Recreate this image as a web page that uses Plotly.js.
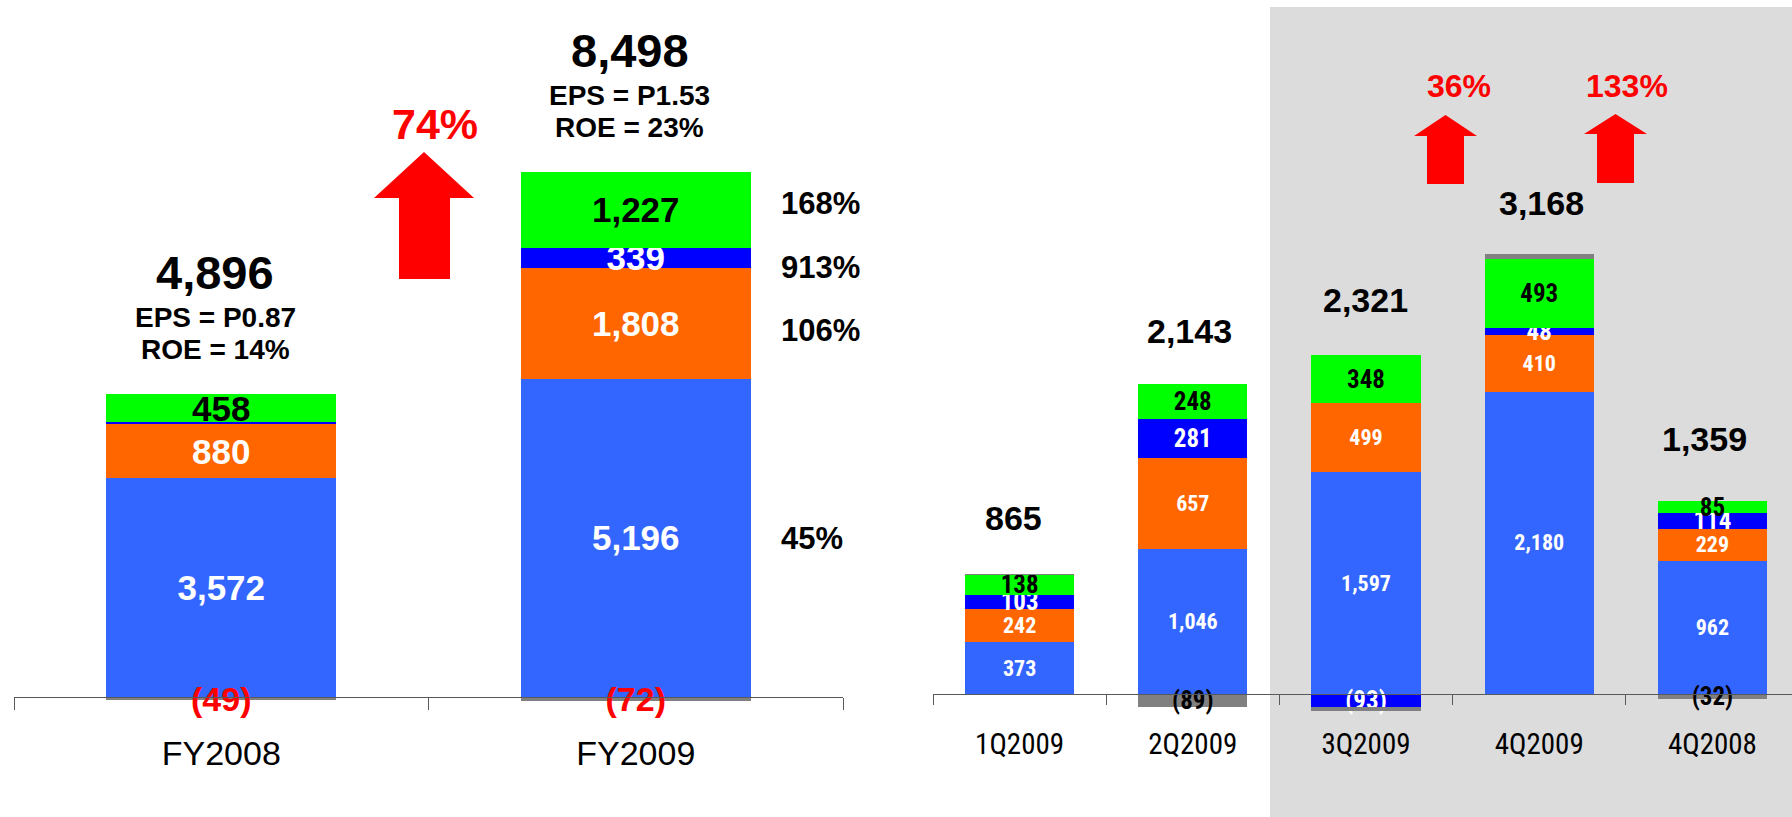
<!DOCTYPE html>
<html><head><meta charset="utf-8">
<script src="https://cdn.plot.ly/plotly-3.0.1.min.js"></script>
<style>html,body{margin:0;padding:0;background:#fff;}#chart{width:1792px;height:817px;}</style>
</head><body><div id="chart"></div>
<script>
// ---------------- data ----------------
const fyCats = ['FY2008', 'FY2009'];
const fyBlue = [3572, 5196];
const fyOrange = [880, 1808];
const fyNavy = [35, 339];
const fyGreen = [458, 1227];
const fyGrey = [-49, -72];
const fyTotal = [4896, 8498];
const fyEps = ['P0.87', 'P1.53'];
const fyRoe = ['14%', '23%'];
const fyNavyShown = [false, true];
// FY2009 growth per segment: blue, orange, navy, green
const fyGrowth = ['45%', '106%', '913%', '168%'];
const fyGrowthTotal = '74%';

const qCats = ['1Q2009', '2Q2009', '3Q2009', '4Q2009', '4Q2008'];
const qBlue = [373, 1046, 1597, 2180, 962];
const qOrange = [242, 657, 499, 410, 229];
const qNavy = [103, 281, -93, 48, 114];
const qGreen = [138, 248, 348, 493, 85];
const qGrey = [9, -89, -30, 37, -32];
const qGreyShown = [false, true, false, false, true];
const qTotal = [865, 2143, 2321, 3168, 1359];
const qGrowth = ['36%', '133%'];

// ---------------- style / geometry ----------------
const W = 1792, H = 817;
const C = {blue: '#3366FF', orange: '#FF6600', navy: '#0000FF', green: '#00FF00', grey: '#808080', red: '#FF0000'};
const ARIAL = 'Liberation Sans, Arial, sans-serif';
const NARROW = 'Roboto Condensed, Liberation Sans Narrow, Arial Narrow, Liberation Sans, sans-serif';
const L = {x0: 14, x1: 843, zero: 697, scale: 0.06121};
const R = {x0: 933, x1: 1792, zero: 694.3, scale: 0.1389, cat: 173.2};

const fmt = v => v < 0 ? '(' + Math.abs(v).toLocaleString('en-US') + ')' : v.toLocaleString('en-US');
const px = x => x / W;
const py = y => 1 - y / H;

function seg(x, y, xa, ya, color, width, texts, font) {
  return {type: 'bar', x: x, y: y, xaxis: xa, yaxis: ya, width: width,
    marker: {color: color, line: {width: 0}}, text: texts, textposition: 'inside',
    insidetextanchor: 'middle', textangle: 0, constraintext: 'none',
    textfont: font, hoverinfo: 'skip', showlegend: false, cliponaxis: false};
}
const fL = (c) => ({family: ARIAL, size: 35, color: c, weight: 700});
const fR = (c, s) => ({family: NARROW, size: s, color: c, weight: 700});

const traces = [
  seg(fyCats, fyBlue, 'x', 'y', C.blue, 0.555, fyBlue.map(fmt), fL('white')),
  seg(fyCats, fyOrange, 'x', 'y', C.orange, 0.555, fyOrange.map(fmt), fL('white')),
  seg(fyCats, fyNavy, 'x', 'y', C.navy, 0.555, fyNavy.map((v, i) => fyNavyShown[i] ? fmt(v) : ''), fL('white')),
  seg(fyCats, fyGreen, 'x', 'y', C.green, 0.555, fyGreen.map(fmt), fL('black')),
  seg(fyCats, fyGrey, 'x', 'y', C.grey, 0.555, fyGrey.map(fmt), {family: ARIAL, size: 34, color: C.red, weight: 700}),
  seg(qCats, qBlue, 'x2', 'y2', C.blue, 0.63, qBlue.map(fmt), fR('white', 22)),
  seg(qCats, qOrange, 'x2', 'y2', C.orange, 0.63, qOrange.map(fmt), fR('white', 22)),
  seg(qCats, qNavy, 'x2', 'y2', C.navy, 0.63, qNavy.map(fmt), fR('white', 25)),
  seg(qCats, qGreen, 'x2', 'y2', C.green, 0.63, qGreen.map(fmt), fR('black', 25)),
  seg(qCats, qGrey, 'x2', 'y2', C.grey, 0.63, qGrey.map((v, i) => qGreyShown[i] ? fmt(v) : ''), fR('black', 25))
];

const posSum = (arrs, i) => arrs.reduce((s, a) => s + Math.max(0, a[i]), 0);
const ann = [];
const black = (s, fam) => ({family: fam || ARIAL, size: s, color: 'black', weight: 700});

fyCats.forEach((c, i) => {
  const top = posSum([fyBlue, fyOrange, fyNavy, fyGreen, fyGrey], i);
  ann.push({xref: 'x', yref: 'y', x: c, y: top, text: fmt(fyTotal[i]), showarrow: false, xanchor: 'center', yanchor: 'middle', yshift: 122, xshift: -6, font: black(47)});
  ann.push({xref: 'x', yref: 'y', x: c, y: top, text: 'EPS = ' + fyEps[i], showarrow: false, xanchor: 'center', yanchor: 'middle', yshift: 77, xshift: -6, font: black(28)});
  ann.push({xref: 'x', yref: 'y', x: c, y: top, text: 'ROE = ' + fyRoe[i], showarrow: false, xanchor: 'center', yanchor: 'middle', yshift: 45, xshift: -6, font: black(28)});
});
// growth labels next to FY2009 segments
const fySegs = [fyBlue, fyOrange, fyNavy, fyGreen];
const growShift = [-1, -7, -10, 6];
let base = 0;
fySegs.forEach((a, k) => {
  const mid = base + a[1] / 2; base += a[1];
  ann.push({xref: 'paper', yref: 'y', x: px(779), y: mid, text: fyGrowth[k], showarrow: false, xanchor: 'left', yanchor: 'middle', yshift: growShift[k], font: black(31)});
});
// quarterly totals
const qShiftY = [56, 53, 55, 51, 62];
const qShiftX = [-6, -3, -1, 2, -8];
qCats.forEach((c, i) => {
  const top = posSum([qBlue, qOrange, qNavy, qGreen, qGrey], i);
  ann.push({xref: 'x2', yref: 'y2', x: c, y: top, text: fmt(qTotal[i]), showarrow: false, xanchor: 'center', yanchor: 'middle', yshift: qShiftY[i], xshift: qShiftX[i], font: black(34)});
});
// growth arrows text
const redF = s => ({family: ARIAL, size: s, color: C.red, weight: 700});
ann.push({xref: 'paper', yref: 'paper', x: px(435), y: py(124), text: fyGrowthTotal, showarrow: false, xanchor: 'center', yanchor: 'middle', font: redF(43)});
ann.push({xref: 'paper', yref: 'paper', x: px(1459), y: py(86), text: qGrowth[0], showarrow: false, xanchor: 'center', yanchor: 'middle', font: redF(32)});
ann.push({xref: 'paper', yref: 'paper', x: px(1627), y: py(86), text: qGrowth[1], showarrow: false, xanchor: 'center', yanchor: 'middle', font: redF(32)});

function arrow(hl, hr, sl, sr, top, hb, bot) {
  const cx = (hl + hr) / 2;
  const pts = [[sl, bot], [sl, hb], [hl, hb], [cx, top], [hr, hb], [sr, hb], [sr, bot]];
  return {type: 'path', xref: 'paper', yref: 'paper', fillcolor: C.red, line: {width: 0},
    path: 'M' + pts.map(p => px(p[0]) + ',' + py(p[1])).join(' L') + ' Z'};
}
const shapes = [
  {type: 'rect', xref: 'paper', yref: 'paper', x0: px(1270), x1: 1, y0: 0, y1: py(7), fillcolor: '#DCDCDC', line: {width: 0}, layer: 'below'},
  arrow(374, 474, 399, 450, 152, 198, 279),
  arrow(1414, 1477, 1427, 1464, 115, 136, 184),
  arrow(1584, 1647, 1597, 1634, 114, 134, 183)
];

const axisCommon = {type: 'category', tickson: 'boundaries', ticks: 'outside', tickcolor: '#595959', tickwidth: 1,
  showline: true, linecolor: '#595959', linewidth: 1, showgrid: false, zeroline: false, anchor: 'free', fixedrange: true};

const layout = {
  width: W, height: H, margin: {l: 0, r: 0, t: 0, b: 0},
  paper_bgcolor: 'white', plot_bgcolor: 'rgba(0,0,0,0)',
  barmode: 'relative', bargap: 0, showlegend: false,
  xaxis: Object.assign({}, axisCommon, {domain: [px(L.x0), px(L.x1)], range: [-0.5, 1.5], position: 1 - L.zero / H,
    ticklen: 12, ticklabelstandoff: 26, tickfont: {family: ARIAL, size: 34, color: 'black'}}),
  yaxis: {domain: [0, 1], range: [-(H - L.zero) / L.scale, L.zero / L.scale], visible: false, fixedrange: true},
  xaxis2: Object.assign({}, axisCommon, {domain: [px(R.x0), 1], range: [-0.5, -0.5 + (R.x1 - R.x0) / R.cat], position: 1 - R.zero / H,
    ticklen: 10, ticklabelstandoff: 24, tickfont: {family: NARROW, size: 29, color: 'black'}}),
  yaxis2: {domain: [0, 1], anchor: 'x2', range: [-(H - R.zero) / R.scale, R.zero / R.scale], visible: false, fixedrange: true},
  annotations: ann, shapes: shapes
};

Plotly.newPlot('chart', traces, layout, {staticPlot: true, displayModeBar: false});
</script></body></html>
